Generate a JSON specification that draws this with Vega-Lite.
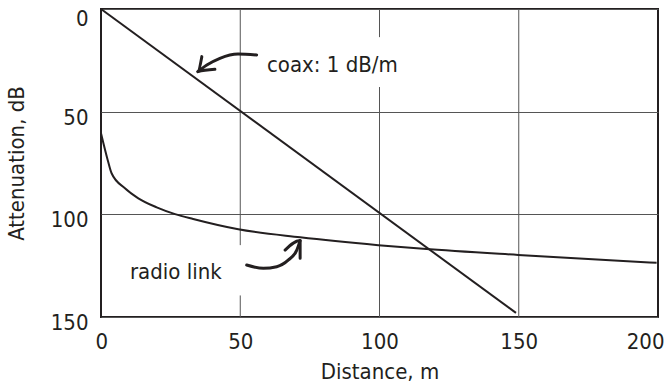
{
  "$schema": "https://vega.github.io/schema/vega-lite/v6.json",
  "width": 557,
  "height": 308,
  "autosize": {"type": "none"},
  "padding": {"left": 101, "top": 9, "right": 10, "bottom": 75},
  "background": "white",
  "config": {
    "view": {"stroke": "#231f20", "strokeWidth": 2},
    "font": "DejaVu Sans Condensed, sans-serif"
  },
  "datasets": {
    "grid": [
      {"x": 50, "y": 0, "y2": 115},
      {"x": 50, "y": 139.5, "y2": 150},
      {"x": 100, "y": 0, "y2": 13.7},
      {"x": 100, "y": 38, "y2": 150},
      {"x": 150, "y": 0, "y2": 150}
    ],
    "coax": [
      {"distance": 0, "attenuation": 0},
      {"distance": 149, "attenuation": 148}
    ],
    "radio": [
      {"distance": 0, "attenuation": 60.5},
      {"distance": 2.4, "attenuation": 73.5},
      {"distance": 3.8, "attenuation": 80},
      {"distance": 8.6, "attenuation": 87.3},
      {"distance": 13.4, "attenuation": 92.2},
      {"distance": 20, "attenuation": 96.6},
      {"distance": 26.6, "attenuation": 99.9},
      {"distance": 33.1, "attenuation": 102.3},
      {"distance": 49.3, "attenuation": 107.3},
      {"distance": 71.5, "attenuation": 111.2},
      {"distance": 99.6, "attenuation": 115},
      {"distance": 115.7, "attenuation": 116.8},
      {"distance": 149.8, "attenuation": 119.8},
      {"distance": 199.5, "attenuation": 123.6}
    ],
    "arrows": [
      {"g": "c1", "i": 0, "x": 55.9, "y": 22.4},
      {"g": "c1", "i": 1, "x": 49.2, "y": 21.9},
      {"g": "c1", "i": 2, "x": 42.7, "y": 24.0},
      {"g": "c1", "i": 3, "x": 38.0, "y": 27.3},
      {"g": "c1", "i": 4, "x": 34.8, "y": 30.5},
      {"g": "c2", "i": 0, "x": 36.2, "y": 23.2},
      {"g": "c2", "i": 1, "x": 34.8, "y": 30.5},
      {"g": "c2", "i": 2, "x": 40.9, "y": 29.4},
      {"g": "r1", "i": 0, "x": 52.3, "y": 124.7},
      {"g": "r1", "i": 1, "x": 58.3, "y": 126.3},
      {"g": "r1", "i": 2, "x": 63.1, "y": 125.5},
      {"g": "r1", "i": 3, "x": 67.3, "y": 122.2},
      {"g": "r1", "i": 4, "x": 70.3, "y": 117.4},
      {"g": "r1", "i": 5, "x": 71.5, "y": 112.8},
      {"g": "r2", "i": 0, "x": 66.1, "y": 117.4},
      {"g": "r2", "i": 1, "x": 71.5, "y": 112.8},
      {"g": "r2", "i": 2, "x": 71.5, "y": 121.4}
    ],
    "labels": [
      {"x": 59.6, "y": 27.3, "label": "coax: 1 dB/m"},
      {"x": 10.4, "y": 128.1, "label": "radio link"}
    ]
  },
  "layer": [
    {
      "data": {"name": "grid"},
      "mark": {"type": "rule", "color": "#555555", "strokeWidth": 1},
      "encoding": {
        "x": {
          "field": "x", "type": "quantitative",
          "scale": {"domain": [0, 200], "nice": false},
          "axis": {
            "title": "Distance, m",
            "values": [0, 50, 100, 150, 200],
            "grid": false, "ticks": false, "domain": false,
            "labelFlush": true, "labelFlushOffset": 6,
            "labelFontSize": 22, "labelColor": "#231f20", "labelPadding": 14,
            "titleFontSize": 22, "titleFontWeight": "normal", "titleColor": "#231f20", "titlePadding": 9
          }
        },
        "y": {
          "field": "y", "type": "quantitative",
          "scale": {"domain": [0, 150], "reverse": true, "nice": false},
          "axis": {
            "title": "Attenuation, dB",
            "values": [0, 50, 100, 150],
            "grid": true, "gridColor": "#555555", "gridWidth": 1, "gridOpacity": 1,
            "ticks": false, "domain": false,
            "labelBaseline": {"condition": {"test": "datum.value == 0", "value": "line-top"}, "value": "middle"},
            "labelLineHeight": 9,
            "labelOffset": 5.5,
            "labelFontSize": 22, "labelColor": "#231f20", "labelPadding": 13,
            "titleFontSize": 22, "titleFontWeight": "normal", "titleColor": "#231f20", "titlePadding": 22
          }
        },
        "y2": {"field": "y2"}
      }
    },
    {
      "data": {"name": "coax"},
      "mark": {"type": "line", "color": "#231f20", "strokeWidth": 2},
      "encoding": {
        "x": {"field": "distance", "type": "quantitative"},
        "y": {"field": "attenuation", "type": "quantitative"}
      }
    },
    {
      "data": {"name": "radio"},
      "mark": {"type": "line", "color": "#231f20", "strokeWidth": 2, "interpolate": "monotone"},
      "encoding": {
        "x": {"field": "distance", "type": "quantitative"},
        "y": {"field": "attenuation", "type": "quantitative"}
      }
    },
    {
      "data": {"name": "arrows"},
      "mark": {"type": "line", "color": "#231f20", "strokeWidth": 3, "interpolate": "monotone", "strokeCap": "round", "strokeJoin": "round"},
      "encoding": {
        "x": {"field": "x", "type": "quantitative"},
        "y": {"field": "y", "type": "quantitative"},
        "detail": {"field": "g", "type": "nominal"},
        "order": {"field": "i", "type": "quantitative"}
      }
    },
    {
      "data": {"name": "labels"},
      "mark": {"type": "text", "align": "left", "baseline": "middle", "fontSize": 22, "color": "#231f20"},
      "encoding": {
        "x": {"field": "x", "type": "quantitative"},
        "y": {"field": "y", "type": "quantitative"},
        "text": {"field": "label"}
      }
    }
  ]
}
